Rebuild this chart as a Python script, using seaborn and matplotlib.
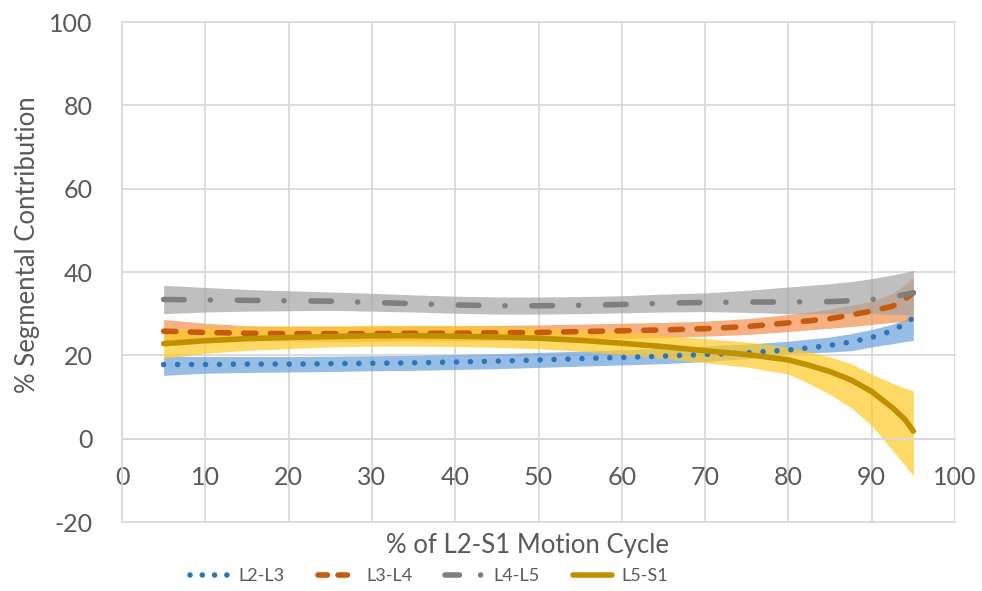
import numpy as np
import pandas as pd
import matplotlib
matplotlib.use("Agg")
import matplotlib.pyplot as plt
from matplotlib.lines import Line2D
import seaborn as sns

# Percent of motion cycle at which each segment's contribution is reported
cycle = [5, 10, 15, 20, 25, 30, 35, 40, 45, 50, 55, 60, 65, 70, 75, 80, 82.5, 85, 87.5, 90, 92.5, 94, 95]

# Mean segmental contribution (%)
l2_l3 = [17.8, 17.8, 17.9, 17.9, 18.0, 18.1, 18.2, 18.4, 18.6, 18.9, 19.2, 19.5, 19.8, 20.2, 20.6, 21.3, 21.8, 22.4, 23.2, 24.3, 25.9, 27.6, 29.0]
l3_l4 = [25.8, 25.5, 25.3, 25.2, 25.2, 25.2, 25.3, 25.3, 25.4, 25.5, 25.7, 25.9, 26.1, 26.4, 26.9, 27.8, 28.3, 28.8, 29.7, 30.6, 31.8, 33.5, 35.0]
l4_l5 = [33.4, 33.3, 33.2, 33.1, 33.0, 32.7, 32.4, 32.1, 31.9, 31.9, 32.0, 32.2, 32.5, 32.7, 32.8, 32.8, 32.85, 32.9, 33.1, 33.4, 34.0, 34.6, 35.0]
l5_s1 = [22.8, 23.5, 24.0, 24.3, 24.5, 24.7, 24.7, 24.6, 24.4, 24.1, 23.6, 22.9, 22.1, 21.1, 20.2, 18.9, 17.6, 16.1, 14.1, 11.3, 7.4, 4.6, 1.8]

# Lower and upper edges of the shaded band around each mean (%)
l2_l3_lo = [15.2, 15.7, 15.9, 16.0, 16.1, 16.3, 16.4, 16.6, 16.8, 17.1, 17.4, 17.7, 18.0, 18.5, 19.2, 20.4, 20.6, 20.8, 21.1, 22.0, 22.8, 23.3, 23.6]
l2_l3_hi = [19.8, 19.7, 19.7, 19.7, 19.8, 19.9, 20.0, 20.2, 20.4, 20.7, 21.0, 21.3, 21.7, 22.2, 22.7, 23.4, 23.9, 24.4, 25.2, 26.2, 27.5, 28.6, 29.5]
l3_l4_lo = [23.0, 23.3, 23.5, 23.4, 23.4, 23.4, 23.5, 23.5, 23.6, 23.7, 23.9, 24.1, 24.3, 24.6, 25.0, 25.7, 26.1, 26.5, 26.9, 27.4, 27.9, 28.2, 28.4]
l3_l4_hi = [28.6, 27.7, 27.1, 27.0, 27.0, 27.0, 27.1, 27.1, 27.2, 27.3, 27.5, 27.7, 27.9, 28.2, 28.8, 29.8, 30.4, 31.1, 32.0, 33.0, 34.8, 37.0, 38.8]
l4_l5_lo = [30.0, 30.4, 30.6, 30.7, 30.8, 30.6, 30.4, 30.1, 29.9, 29.9, 30.0, 30.2, 30.4, 30.5, 30.3, 30.0, 30.0, 30.0, 30.0, 30.0, 29.8, 29.7, 29.6]
l4_l5_hi = [36.8, 36.3, 35.8, 35.5, 35.2, 34.9, 34.5, 34.2, 34.0, 34.0, 34.1, 34.3, 34.7, 35.0, 35.6, 36.4, 36.8, 37.2, 37.7, 38.4, 39.3, 39.9, 40.4]
l5_s1_lo = [19.3, 20.5, 21.2, 21.6, 22.0, 22.2, 22.2, 22.1, 21.9, 21.6, 21.0, 20.2, 19.3, 18.2, 17.2, 15.5, 13.2, 10.6, 7.5, 3.1, -2.8, -6.4, -9.0]
l5_s1_hi = [26.3, 26.5, 26.8, 27.0, 27.0, 27.2, 27.2, 27.1, 26.9, 26.6, 26.2, 25.6, 24.9, 24.0, 23.2, 22.0, 20.9, 19.6, 18.0, 15.5, 13.3, 12.1, 11.5]

labels = ["L2-L3", "L3-L4", "L4-L5", "L5-S1"]
x_ticks = list(range(0, 101, 10))
y_ticks = list(range(-20, 101, 20))

series = [l2_l3, l3_l4, l4_l5, l5_s1]
lows = [l2_l3_lo, l3_l4_lo, l4_l5_lo, l5_s1_lo]
highs = [l2_l3_hi, l3_l4_hi, l4_l5_hi, l5_s1_hi]

df = pd.DataFrame({"cycle": cycle})
for name, vals, lo, hi in zip(labels, series, lows, highs):
    df[name] = vals
    df[name + "_lo"] = lo
    df[name + "_hi"] = hi

sns.set_theme(style="white")
plt.rcParams["font.family"] = ["Lato", "DejaVu Sans"]
plt.rcParams["axes.unicode_minus"] = False

text_color = "#595959"
grid_color = "#d9d9d9"

line_colors = ["#2e75b6", "#c55a11", "#7f7f7f", "#bf9000"]
band_colors = ["#69a2db", "#f1914c", "#a4a4a4", "#ffc924"]
lw = 4.0
styles = [
    (0, (0.01, 2.5)),
    (0, (2.2, 2.6)),
    (0, (3.7, 4.7, 0.01, 4.85)),
    "-",
]
# Tighter versions of the same patterns for the short legend samples
legend_styles = [
    (0, (0.01, 2.2)),
    (0, (1.7, 1.9)),
    (0, (2.6, 3.8, 0.01, 10)),
    "-",
]

fig = plt.figure(figsize=(9.82, 5.91), dpi=100)
ax = fig.add_axes([122 / 982, 1 - 522 / 591, (955 - 122) / 982, (522 - 22) / 591])

# Shaded bands first, then the mean curves on top
for name, bc in zip(labels, band_colors):
    ax.fill_between(df["cycle"], df[name + "_lo"], df[name + "_hi"],
                    color=bc, alpha=0.7, linewidth=0, zorder=2)

for name, lc, ls in zip(labels, line_colors, styles):
    sns.lineplot(data=df, x="cycle", y=name, ax=ax, color=lc, linewidth=lw,
                 linestyle=ls, dash_capstyle="round", solid_capstyle="round",
                 label=name, zorder=3, legend=False)

ax.set_xlim(0, 100)
ax.set_ylim(-20, 100)
ax.set_xticks(x_ticks)
ax.set_yticks(y_ticks)
ax.grid(True, color=grid_color, linewidth=1.3)
ax.set_axisbelow(True)
for gl in ax.get_xgridlines() + ax.get_ygridlines():
    gl.set_clip_on(False)

for s in ["top", "right"]:
    ax.spines[s].set_visible(False)
ax.spines["left"].set_color(grid_color)
ax.spines["left"].set_linewidth(1.3)
ax.spines["bottom"].set_position(("data", 0))
ax.spines["bottom"].set_color(grid_color)
ax.spines["bottom"].set_linewidth(1.3)

ax.tick_params(axis="x", length=0, pad=20, labelsize=18, labelcolor=text_color)
ax.tick_params(axis="y", length=0, pad=21, labelsize=18, labelcolor=text_color)
ax.set_xlabel("")
ax.set_ylabel("")

fig.text(527 / 982, 1 - 545 / 591, "% of L2-S1 Motion Cycle", ha="center", va="center",
         fontsize=18.5, color=text_color)
fig.text(28 / 982, 1 - 245 / 591, "% Segmental Contribution", ha="center", va="center",
         rotation=90, fontsize=18.5, color=text_color)

handles = [Line2D([], [], color=lc, linewidth=lw, linestyle=ls,
                  dash_capstyle="round", solid_capstyle="round")
           for lc, ls in zip(line_colors, legend_styles)]
fig.legend(handles, labels, loc="center", bbox_to_anchor=(429 / 982, 1 - 576 / 591),
           ncol=4, frameon=False, fontsize=13, labelcolor=text_color,
           handlelength=2.2, handletextpad=0.5, columnspacing=1.8)

fig.savefig("out.png", dpi=100)
